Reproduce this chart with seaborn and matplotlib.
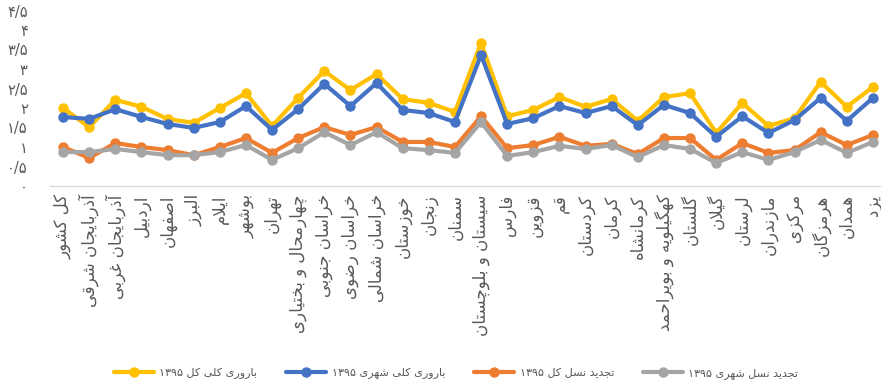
import re
import numpy as np
import pandas as pd
import seaborn as sns
import matplotlib
matplotlib.use("Agg")
import matplotlib.pyplot as plt

# ---------------------------------------------------------------- data
provinces = [
    "کل کشور", "آذربایجان شرقی", "آذربایجان غربی", "اردبیل", "اصفهان", "البرز",
    "ایلام", "بوشهر", "تهران", "چهارمحال و بختیاری", "خراسان جنوبی",
    "خراسان رضوی", "خراسان شمالی", "خوزستان", "زنجان", "سمنان",
    "سیستان و بلوچستان", "فارس", "قزوین", "قم", "کردستان", "کرمان",
    "کرمانشاه", "کهگیلویه و بویراحمد", "گلستان", "گیلان", "لرستان",
    "مازندران", "مرکزی", "هرمزگان", "همدان", "یزد",
]

tfr_total = [2.00, 1.51, 2.21, 2.03, 1.72, 1.62, 2.00, 2.38, 1.54, 2.26, 2.95,
             2.46, 2.87, 2.23, 2.13, 1.90, 3.67, 1.79, 1.95, 2.28, 2.03, 2.23,
             1.67, 2.28, 2.38, 1.36, 2.13, 1.54, 1.74, 2.67, 2.03, 2.54]
tfr_urban = [1.77, 1.72, 1.97, 1.77, 1.59, 1.49, 1.64, 2.05, 1.44, 1.97, 2.62,
             2.05, 2.64, 1.95, 1.87, 1.64, 3.36, 1.59, 1.74, 2.05, 1.87, 2.05,
             1.56, 2.08, 1.87, 1.26, 1.79, 1.36, 1.69, 2.26, 1.67, 2.26]
grr_total = [1.00, 0.72, 1.10, 1.00, 0.92, 0.79, 1.00, 1.23, 0.85, 1.23, 1.51,
             1.31, 1.51, 1.13, 1.13, 1.00, 1.79, 0.97, 1.05, 1.26, 1.03, 1.08,
             0.82, 1.23, 1.23, 0.67, 1.10, 0.85, 0.92, 1.38, 1.05, 1.31]
grr_urban = [0.87, 0.87, 0.95, 0.87, 0.79, 0.79, 0.87, 1.05, 0.67, 0.97, 1.38,
             1.05, 1.38, 0.97, 0.92, 0.85, 1.64, 0.77, 0.87, 1.03, 0.95, 1.05,
             0.74, 1.05, 0.95, 0.59, 0.87, 0.67, 0.87, 1.18, 0.85, 1.13]

series_names = ["باروری کلی کل ۱۳۹۵", "باروری کلی شهری ۱۳۹۵",
                "تجدید نسل کل ۱۳۹۵", "تجدید نسل شهری ۱۳۹۵"]
series_colors = ["#FFC000", "#4472C4", "#ED7D31", "#A5A5A5"]

y_ticks = [0, 0.5, 1, 1.5, 2, 2.5, 3, 3.5, 4, 4.5]
y_tick_labels = ["۰", "۰/۵", "۱", "۱/۵", "۲", "۲/۵", "۳", "۳/۵", "۴", "۴/۵"]

# ------------------------------------------- Persian shaping + RTL order
# (isolated, final, initial, medial); right-joining letters have no initial/medial
FORMS = {
    "ا": ("\uFE8D", "\uFE8E", None, None),
    "آ": ("\uFE81", "\uFE82", None, None),
    "ب": ("\uFE8F", "\uFE90", "\uFE91", "\uFE92"),
    "پ": ("\uFB56", "\uFB57", "\uFB58", "\uFB59"),
    "ت": ("\uFE95", "\uFE96", "\uFE97", "\uFE98"),
    "ث": ("\uFE99", "\uFE9A", "\uFE9B", "\uFE9C"),
    "ج": ("\uFE9D", "\uFE9E", "\uFE9F", "\uFEA0"),
    "چ": ("\uFB7A", "\uFB7B", "\uFB7C", "\uFB7D"),
    "ح": ("\uFEA1", "\uFEA2", "\uFEA3", "\uFEA4"),
    "خ": ("\uFEA5", "\uFEA6", "\uFEA7", "\uFEA8"),
    "د": ("\uFEA9", "\uFEAA", None, None),
    "ذ": ("\uFEAB", "\uFEAC", None, None),
    "ر": ("\uFEAD", "\uFEAE", None, None),
    "ز": ("\uFEAF", "\uFEB0", None, None),
    "ژ": ("\uFB8A", "\uFB8B", None, None),
    "س": ("\uFEB1", "\uFEB2", "\uFEB3", "\uFEB4"),
    "ش": ("\uFEB5", "\uFEB6", "\uFEB7", "\uFEB8"),
    "ص": ("\uFEB9", "\uFEBA", "\uFEBB", "\uFEBC"),
    "ض": ("\uFEBD", "\uFEBE", "\uFEBF", "\uFEC0"),
    "ط": ("\uFEC1", "\uFEC2", "\uFEC3", "\uFEC4"),
    "ظ": ("\uFEC5", "\uFEC6", "\uFEC7", "\uFEC8"),
    "ع": ("\uFEC9", "\uFECA", "\uFECB", "\uFECC"),
    "غ": ("\uFECD", "\uFECE", "\uFECF", "\uFED0"),
    "ف": ("\uFED1", "\uFED2", "\uFED3", "\uFED4"),
    "ق": ("\uFED5", "\uFED6", "\uFED7", "\uFED8"),
    "ک": ("\uFB8E", "\uFB8F", "\uFB90", "\uFB91"),
    "گ": ("\uFB92", "\uFB93", "\uFB94", "\uFB95"),
    "ل": ("\uFEDD", "\uFEDE", "\uFEDF", "\uFEE0"),
    "م": ("\uFEE1", "\uFEE2", "\uFEE3", "\uFEE4"),
    "ن": ("\uFEE5", "\uFEE6", "\uFEE7", "\uFEE8"),
    "و": ("\uFEED", "\uFEEE", None, None),
    "ه": ("\uFEE9", "\uFEEA", "\uFEEB", "\uFEEC"),
    "ی": ("\uFBFC", "\uFBFD", "\uFBFE", "\uFBFF"),
}
LAM_ALEF = {"ا": ("\uFEFB", "\uFEFC"), "آ": ("\uFEF5", "\uFEF6")}


def dual(ch):
    return ch in FORMS and FORMS[ch][2] is not None


def shape(text):
    out = []
    i = 0
    n = len(text)
    while i < n:
        ch = text[i]
        if ch not in FORMS:
            out.append(ch)
            i += 1
            continue
        prev_join = i > 0 and dual(text[i - 1])
        if ch == "ل" and i + 1 < n and text[i + 1] in LAM_ALEF:
            iso, fin = LAM_ALEF[text[i + 1]]
            out.append(fin if prev_join else iso)
            i += 2
            continue
        next_join = dual(ch) and i + 1 < n and text[i + 1] in FORMS
        iso, fin, ini, med = FORMS[ch]
        if prev_join and next_join:
            out.append(med)
        elif prev_join:
            out.append(fin)
        elif next_join:
            out.append(ini)
        else:
            out.append(iso)
        i += 1
    return "".join(out)


def rtl(text):
    shaped = shape(text)
    tokens = re.findall(r"[0-9\u06F0-\u06F9]+(?:[/.][0-9\u06F0-\u06F9]+)*|.", shaped)
    return "".join(reversed(tokens))


# ---------------------------------------------------------------- frame
rows = []
for name, vals in zip(series_names, [tfr_total, tfr_urban, grr_total, grr_urban]):
    for idx, v in enumerate(vals):
        rows.append({"pos": idx, "value": v, "series": name})
df = pd.DataFrame(rows)

# ---------------------------------------------------------------- plot
sns.set_theme(style="white")
plt.rcParams["font.family"] = ["DejaVu Sans"]

W, H = 881, 385
fig = plt.figure(figsize=(W / 100, H / 100), dpi=100)
ax = fig.add_axes([50 / W, (H - 186) / H, 836 / W, 175.5 / H])

sns.lineplot(
    data=df, x="pos", y="value", hue="series", hue_order=series_names,
    palette=series_colors, marker="o", markersize=7.5, markeredgewidth=0,
    linewidth=3.0, ax=ax, legend=True,
)

ax.set_xlim(-0.5, 31.5)
ax.set_ylim(0, 4.5)
ax.set_xlabel("")
ax.set_ylabel("")

ax.set_xticks(range(len(provinces)))
ax.set_xticklabels([rtl(p) for p in provinces], rotation=90, ha="center",
                   va="top", fontsize=12, color="#595959")
ax.set_yticks(y_ticks)
ax.set_yticklabels(y_tick_labels, fontsize=10.5, color="#595959")
ax.tick_params(axis="x", length=0, pad=6)
ax.tick_params(axis="y", length=0, pad=16)

for side in ["top", "right", "left"]:
    ax.spines[side].set_visible(False)
ax.spines["bottom"].set_color("#D9D9D9")
ax.spines["bottom"].set_linewidth(1.0)
ax.grid(False)

handles, labels = ax.get_legend_handles_labels()
ax.get_legend().remove()
fig.legend(handles, [rtl(l) for l in labels], loc="center",
           bbox_to_anchor=(456 / W, 1 - 373 / H), ncol=4, frameon=False,
           fontsize=8, labelcolor="#595959", handlelength=3.6,
           handletextpad=0.5, columnspacing=2.6)

fig.savefig("out.png", dpi=100)
